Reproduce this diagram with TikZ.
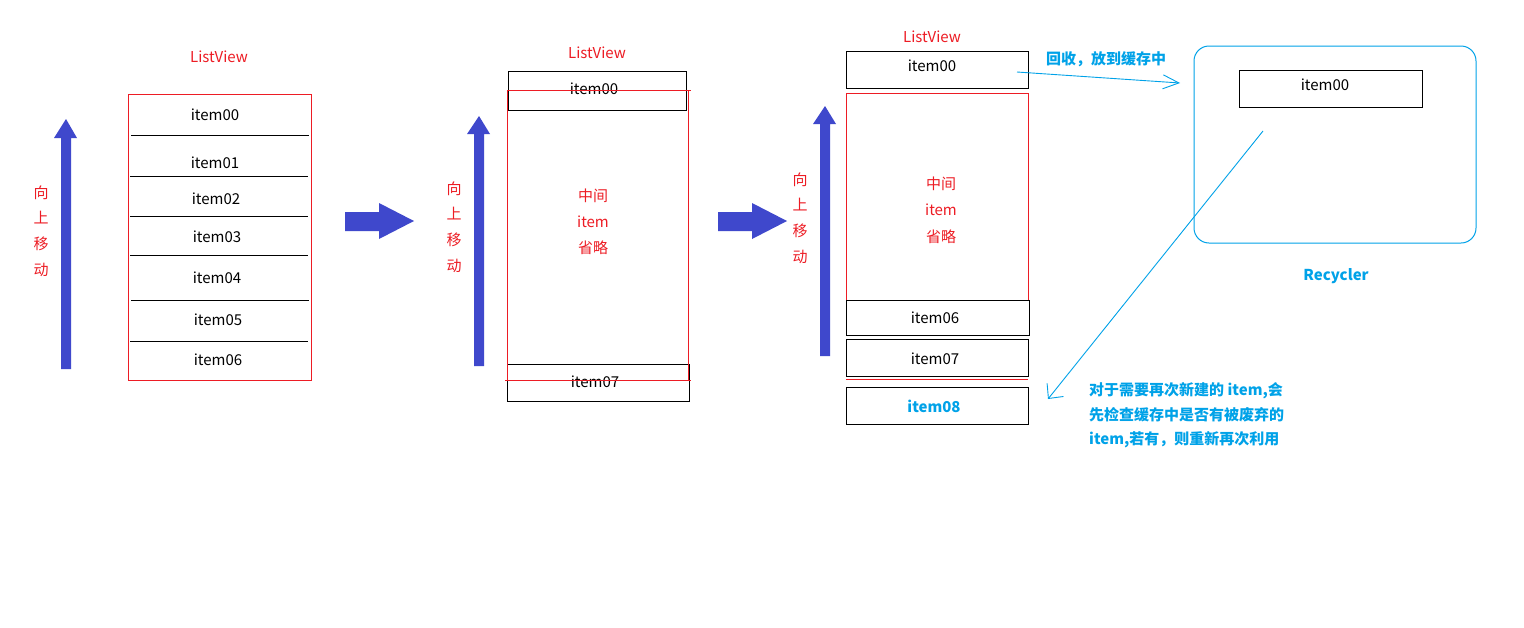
\documentclass[tikz,border=0pt]{standalone}
\usepackage{fontspec}
\setmainfont{Noto Sans CJK SC}
\usetikzlibrary{arrows.meta}
\definecolor{pred}{HTML}{ED1C24}
\definecolor{pblue}{HTML}{3F48CC}
\definecolor{pcyan}{HTML}{00A2E8}
\tikzset{
  txt/.style={inner sep=0pt, font=\fontsize{15}{18}\selectfont},
  redtxt/.style={txt, text=pred},
  cyantxt/.style={txt, text=pcyan, font=\fontsize{15}{18}\selectfont\bfseries},
  itembox/.style={draw=black, line width=1pt, inner sep=0pt, font=\fontsize{15}{18}\selectfont},
  redframe/.style={draw=pred, line width=1pt},
  sepline/.style={draw=black, line width=1pt},
  fatarrow/.style={fill=pblue, draw=none},
  cyanline/.style={draw=pcyan, line width=0.9pt},
  vtext/.style={txt, text=pred, align=center, font=\fontsize{15}{25.7}\selectfont},
}
\begin{document}
\begin{tikzpicture}[x=1pt,y=-1pt]
\path[use as bounding box, fill=white] (0,0) rectangle (1524,627);

% ---------------- Panel 1 ----------------
\node[redtxt] (lv1) at (219,57) {ListView};
\draw[redframe] (128,94) rectangle (311,380);
\draw[sepline] (131,135) -- (309,135);
\draw[sepline] (130,176) -- (308,176);
\draw[sepline] (130,216) -- (308,216);
\draw[sepline] (130,255) -- (308,255);
\draw[sepline] (131,300) -- (309,300);
\draw[sepline] (130,341) -- (308,341);
\node[txt] (p1i0) at (215,115) {item00};
\node[txt] (p1i1) at (215,163) {item01};
\node[txt] (p1i2) at (216,199) {item02};
\node[txt] (p1i3) at (217,237) {item03};
\node[txt] (p1i4) at (217,278) {item04};
\node[txt] (p1i5) at (218,320) {item05};
\node[txt] (p1i6) at (218,360) {item06};
% up arrow
\fill[fatarrow] (61,369) -- (71,369) -- (71,138) -- (77,138) -- (66,119) -- (54,138) -- (61,138) -- cycle;
\node[vtext] (up1) at (41,231) {向\\上\\移\\动};
% right arrow
\fill[fatarrow] (345,212) -- (379,212) -- (379,203) -- (414,221) -- (379,239) -- (379,231) -- (345,231) -- cycle;

% ---------------- Panel 2 ----------------
\node[redtxt] (lv2) at (597,53) {ListView};
\node[itembox, minimum width=178pt, minimum height=39pt] (p2i0) at (597,90.5) {};
\node[txt] (p2t0) at (594,89) {item00};
\node[itembox, minimum width=182pt, minimum height=37pt] (p2i7) at (598,382.5) {};
\node[txt] (p2t7) at (595,382) {item07};
\draw[redframe] (507,90) -- (507,380);
\draw[redframe] (688,90) -- (688,380);
\draw[redframe] (507,90) -- (691,90);
\draw[redframe] (505,380) -- (691,380);
\node[redtxt, align=center, font=\fontsize{15}{26}\selectfont] (mid2) at (593,222) {中间\\item\\省略};
\fill[fatarrow] (474,366) -- (484,366) -- (484,134) -- (490,134) -- (479,116) -- (467,134) -- (474,134) -- cycle;
\node[vtext] (up2) at (454,227) {向\\上\\移\\动};
\fill[fatarrow] (718,212) -- (752,212) -- (752,203) -- (787,221) -- (752,239) -- (752,231) -- (718,231) -- cycle;

% ---------------- Panel 3 ----------------
\node[redtxt] (lv3) at (932,37) {ListView};
\node[itembox, minimum width=182pt, minimum height=37pt] (p3i0) at (937,69.5) {};
\node[txt] (p3t0) at (932,66) {item00};
\draw[redframe] (846,300) -- (846,93) -- (1028,93) -- (1028,300);
\node[redtxt, align=center, font=\fontsize{15}{26.5}\selectfont] (mid3) at (941,210) {中间\\item\\省略};
\node[itembox, minimum width=183pt, minimum height=35pt] (p3i6) at (937.5,317.5) {};
\node[txt] (p3t6) at (935,318) {item06};
\node[itembox, minimum width=182pt, minimum height=37pt] (p3i7) at (937,357.5) {};
\node[txt] (p3t7) at (935,359) {item07};
\draw[redframe] (846,379) -- (1028,379);
\node[itembox, minimum width=182pt, minimum height=37pt] (p3i8) at (937,405.5) {};
\node[cyantxt] (p3t8) at (934,406) {item08};
\fill[fatarrow] (820,356) -- (830,356) -- (830,124) -- (836,124) -- (825,106) -- (813,124) -- (820,124) -- cycle;
\node[vtext] (up3) at (800,218) {向\\上\\移\\动};

% ---------------- Recycler ----------------
\draw[pcyan, line width=1pt, rounded corners=15pt] (1194,46) rectangle (1476,243);
\node[itembox, minimum width=183pt, minimum height=37pt] (rci0) at (1330.5,88.5) {};
\node[txt] (rct0) at (1325,85) {item00};
\node[cyantxt] (rlab) at (1336,276) {Recycler};

% cyan arrows
\coordinate (a1s) at (1017,72);
\coordinate (a1e) at (1180,83);
\draw[cyanline, -{Straight Barb[length=16pt,width=14pt]}] (a1s) -- (a1e);
\node[cyantxt, anchor=west] (t1) at (1046,59) {回收，放到缓存中};

\coordinate (a2s) at (1263,131);
\coordinate (a2e) at (1048,399);
\draw[cyanline, -{Straight Barb[length=11pt,width=21pt]}] (a2s) -- (a2e);
\node[cyantxt, anchor=west, align=left, font=\fontsize{15}{24.5}\selectfont\bfseries] (t2) at (1089,415.5) {对于需要再次新建的 item,会\\先检查缓存中是否有被废弃的\\item,若有，则重新再次利用};
\end{tikzpicture}
\end{document}
